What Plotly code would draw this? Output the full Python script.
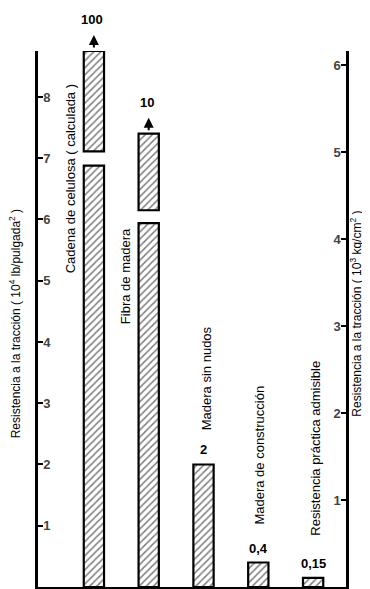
import plotly.graph_objects as go

# ---- data ----
categories = ["Cadena de celulosa ( calculada )", "Fibra de madera",
              "Madera sin nudos", "Madera de construcción",
              "Resistencia práctica admisible"]
value_labels = ["100", "10", "2", "0,4", "0,15"]
values = [100, 10, 2, 0.4, 0.15]            # 10^4 lb/pulgada^2
# broken bars: drawn height and gap (10^4 lb/pulg^2 units)
shown_top = [8.75, 7.4, 2, 0.4, 0.15]
break_lo = [6.88, 5.94, None, None, None]
break_hi = [7.11, 6.15, None, None, None]
left_ticks = [1, 2, 3, 4, 5, 6, 7, 8]
right_ticks = [1, 2, 3, 4, 5, 6]

LB_TO_KG = 1.42  # 10^4 lb/in^2 per 10^3 kg/cm^2

lower_y = [lo if lo is not None else v for lo, v in zip(break_lo, shown_top)]
up_x = [c for c, lo in zip(categories, break_lo) if lo is not None]
up_base = [hi for hi in break_hi if hi is not None]
up_h = [t - hi for t, hi in zip(shown_top, break_hi) if hi is not None]

marker = dict(color="white", line=dict(color="black", width=2.2),
              pattern=dict(shape="/", fgcolor="black", bgcolor="white",
                           size=5, solidity=0.3))

fig = go.Figure()
fig.add_trace(go.Bar(x=categories, y=lower_y, base=0, width=0.37,
                     marker=marker, showlegend=False, hoverinfo="skip"))
fig.add_trace(go.Bar(x=up_x, y=up_h, base=up_base, width=0.37,
                     marker=marker, showlegend=False, hoverinfo="skip"))
fig.add_trace(go.Scatter(x=[categories[0]], y=[0], yaxis="y2", mode="markers",
                         marker=dict(opacity=0), showlegend=False,
                         hoverinfo="skip"))

FONT = "Liberation Sans"
ymax = 8.75
tickf = dict(family="Liberation Sans", size=13)
fig.update_layout(
    width=370, height=589,
    margin=dict(l=30, r=32, t=43, b=10),
    paper_bgcolor="white", plot_bgcolor="white",
    barmode="overlay",
    font=dict(family=FONT, size=12, color="black"),
    xaxis=dict(type="category", range=[-1.02, 4.6], showline=True,
               linewidth=2.5, linecolor="black", showticklabels=False,
               ticks="", showgrid=False, zeroline=False),
    yaxis=dict(range=[0, ymax], tickvals=left_ticks,
               ticktext=[f"<b>{t}</b>" for t in left_ticks], showline=True,
               linewidth=2.5, linecolor="black", ticks="inside", ticklen=5,
               tickwidth=2, tickcolor="black",
               ticklabelposition="inside", showgrid=False, zeroline=False,
               tickfont=tickf),
    yaxis2=dict(range=[0, ymax / LB_TO_KG], tickvals=right_ticks,
                ticktext=[f"<b>{t}</b>" for t in right_ticks],
                overlaying="y", side="right", anchor="x", showline=True,
                linewidth=2.5, linecolor="black", ticks="inside", ticklen=5,
                tickwidth=2, tickcolor="black",
                ticklabelposition="inside", showgrid=False, zeroline=False,
                tickfont=tickf),
)

# axis titles
fig.add_annotation(text="Resistencia a la tracción ( 10<sup>4</sup> lb/pulgada<sup>2</sup> )",
                   xref="paper", yref="paper", x=0, y=0.49, xshift=-23,
                   xanchor="center", yanchor="middle",
                   textangle=-90, showarrow=False, font=dict(size=12))
fig.add_annotation(text="Resistencia a la tracción ( 10<sup>3</sup> kg/cm<sup>2</sup> )",
                   xref="paper", yref="paper", x=1, y=0.51, xshift=20,
                   textangle=-90, showarrow=False, font=dict(size=12))

# category labels (rotated)
label_pos = [(-23, 6.67), (-23, 5.07), (3, 3.40), (1, 2.15), (2, 2.26)]
for c, (dx, yy) in zip(categories, label_pos):
    fig.add_annotation(text=c, x=c, y=yy, xshift=dx, textangle=-90,
                       showarrow=False, font=dict(size=13))

# value labels
for i, (c, lab, top) in enumerate(zip(categories, value_labels, shown_top)):
    if break_lo[i] is not None:
        fig.add_annotation(text=lab, x=c, y=top, yanchor="bottom",
                           yshift=22, xshift=-2, showarrow=False,
                           font=dict(size=13, weight="bold"))
        fig.add_annotation(text="", x=c, y=top, yshift=16, ax=0, ay=14,
                           showarrow=True, arrowhead=2, arrowsize=1,
                           arrowwidth=2, arrowcolor="black")
    else:
        fig.add_annotation(text=lab, x=c, y=top, yanchor="bottom",
                           yshift=5, showarrow=False,
                           font=dict(size=13, weight="bold"))

fig.write_html("out.html")
